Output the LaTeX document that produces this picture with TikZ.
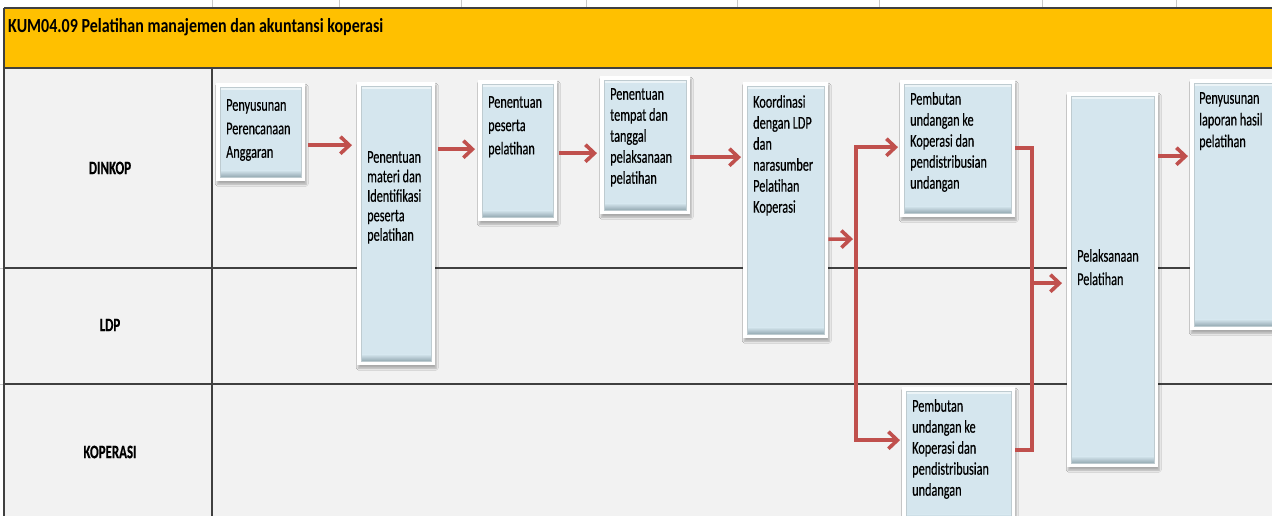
\documentclass[tikz,border=0pt]{standalone}
\usepackage{fontspec}
\setmainfont{Carlito}[FakeStretch=0.68, FakeBold=0.4]
\newfontfamily\titlefont{Carlito}[FakeStretch=0.8]
\usetikzlibrary{arrows.meta,shadows.blur,calc}

\definecolor{hdr}{HTML}{FFC000}
\definecolor{lanebg}{HTML}{F2F2F2}
\definecolor{rule}{HTML}{404040}
\definecolor{faint}{HTML}{C8C8C8}
\definecolor{boxblue}{HTML}{D5E6EE}
\definecolor{boxedge}{HTML}{93A8B1}
\definecolor{flowred}{HTML}{C0504D}

\tikzset{
  laneline/.style={draw=rule, line width=1.3pt},
  topgrid/.style={draw=faint, line width=0.8pt},
  procbox/.style={rectangle, fill=white, inner sep=0pt, anchor=north west,
    blur shadow={shadow xshift=1pt, shadow yshift=-3pt, shadow blur steps=6, shadow opacity=30},
    path picture={
      \fill[boxblue] ([shift={(4pt,-4pt)}]path picture bounding box.north west)
        rectangle ([shift={(-4pt,4pt)}]path picture bounding box.south east);
      \fill[white!55!boxblue] ([shift={(4pt,-4pt)}]path picture bounding box.north west)
        rectangle ([shift={(-4pt,-7pt)}]path picture bounding box.north east);
      \shade[top color=boxblue, bottom color=boxedge]
        ([shift={(4pt,11pt)}]path picture bounding box.south west)
        rectangle ([shift={(-4pt,4pt)}]path picture bounding box.south east);
      \draw[boxedge!60, line width=0.7pt] ([shift={(4pt,-4pt)}]path picture bounding box.north west)
        rectangle ([shift={(-4pt,4pt)}]path picture bounding box.south east);
    }},
  boxtext/.style={anchor=north west, inner sep=0pt, align=left, text=black},
  lanelabel/.style={font=\bfseries\fontsize{19}{22}\selectfont, text=black},
  flow/.style={draw=flowred, line width=3.6pt, line join=miter,
    -{Straight Barb[length=9pt,width=17pt]}},
  flowline/.style={draw=flowred, line width=3.6pt, line join=miter},
}

\begin{document}
\begin{tikzpicture}[x=1pt,y=-1pt]
\useasboundingbox (0,0) rectangle (1272,516);
\clip (0,0) rectangle (1272,516);

% sheet background, header band and swimlane grid
\fill[white] (0,0) rectangle (1272,516);
\fill[lanebg] (4,68) rectangle (1272,516);
\fill[hdr] (4,8) rectangle (1272,68);
\foreach \x in {212,339,461,586,737,879,1042,1176} \draw[topgrid] (\x,0) -- (\x,8);
\draw[topgrid] (0,268) -- (4,268);
\draw[topgrid] (0,384) -- (4,384);
\draw[laneline] (4,8) -- (1272,8);
\draw[laneline] (4,68) -- (1272,68);
\draw[laneline] (4,8) -- (4,516);
\draw[laneline] (212,68) -- (212,516);
\draw[laneline] (4,268) -- (1272,268);
\draw[laneline] (4,384) -- (1272,384);

\node[anchor=base west, inner sep=0pt, font=\titlefont\bfseries\fontsize{20}{24}\selectfont] (title)
  at (8,33) {KUM04.09 Pelatihan manajemen dan akuntansi koperasi};

\node[lanelabel] (lane1) at (110,168) {DINKOP};
\node[lanelabel] (lane2) at (110,325) {LDP};
\node[lanelabel] (lane3) at (110,452) {KOPERASI};

% process boxes
\node[procbox, minimum width=89pt,  minimum height=98pt]  (b1) at (216,83) {};
\node[procbox, minimum width=78pt,  minimum height=283pt] (b2) at (357,82) {};
\node[procbox, minimum width=79pt,  minimum height=141pt] (b3) at (478,80) {};
\node[procbox, minimum width=90pt,  minimum height=138pt] (b4) at (600,76) {};
\node[procbox, minimum width=85pt,  minimum height=256pt] (b5) at (743,82) {};
\node[procbox, minimum width=115pt, minimum height=137pt] (b6) at (900,80) {};
\node[procbox, minimum width=113pt, minimum height=138pt] (b7) at (902,387) {};
\node[procbox, minimum width=91pt,  minimum height=375pt] (b8) at (1067,92) {};
\node[procbox, minimum width=95pt,  minimum height=251pt] (b9) at (1190,79) {};

% box captions
\node[boxtext, font=\fontsize{18}{23.5}\selectfont] (t1) at (226,99) {Penyusunan\\Perencanaan\\Anggaran};
\node[boxtext, font=\fontsize{18}{19.5}\selectfont] (t2) at (367,151) {Penentuan\\materi dan\\Identifikasi\\peserta\\pelatihan};
\node[boxtext, font=\fontsize{18}{23.3}\selectfont] (t3) at (488,96) {Penentuan\\peserta\\pelatihan};
\node[boxtext, font=\fontsize{18}{21}\selectfont] (t4) at (610,88) {Penentuan\\tempat dan\\tanggal\\pelaksanaan\\pelatihan};
\node[boxtext, font=\fontsize{18}{21}\selectfont] (t5) at (753,95) {Koordinasi\\dengan LDP\\dan\\narasumber\\Pelatihan\\Koperasi};
\node[boxtext, font=\fontsize{18}{21}\selectfont] (t6) at (910,92) {Pembutan\\undangan ke\\Koperasi dan\\pendistribusian\\undangan};
\node[boxtext, font=\fontsize{18}{21}\selectfont] (t7) at (912,399) {Pembutan\\undangan ke\\Koperasi dan\\pendistribusian\\undangan};
\node[boxtext, font=\fontsize{18}{23.3}\selectfont] (t8) at (1077,249) {Pelaksanaan\\Pelatihan};
\node[boxtext, font=\fontsize{18}{21.7}\selectfont] (t9) at (1199,92) {Penyusunan\\laporan hasil\\pelatihan};

% connector anchor points on the boxes
\coordinate (o1) at ([yshift=-13pt]b1.east);
\coordinate (o2) at ([yshift=74.5pt]b2.east);
\coordinate (o3) at ([yshift=-2.5pt]b3.east);
\coordinate (o4) at ([yshift=-12pt]b4.east);
\coordinate (o5) at ([yshift=-29pt]b5.east);
\coordinate (i6) at ([yshift=1.5pt]b6.west);
\coordinate (i7) at ([yshift=16pt]b7.west);
\coordinate (o6) at ([yshift=0.5pt]b6.east);
\coordinate (o7) at ([yshift=6pt]b7.east);
\coordinate (i8) at ([yshift=-3.5pt]b8.west);
\coordinate (o8) at ([yshift=123.5pt]b8.east);
\coordinate (split) at (856,239);
\coordinate (merge) at (1032,283);

% sequential flow
\draw[flow, shorten <=3pt, shorten >=5pt] (o1) -- (o1 -| b2.west);
\draw[flow, shorten <=3pt, shorten >=3pt] (o2) -- (o2 -| b3.west);
\draw[flow, shorten <=2pt, shorten >=3pt] (o3) -- (o3 -| b4.west);
\draw[flow, shorten >=2pt] (o4) -- (o4 -| b5.west);
\draw[flow, shorten >=3pt] (o5) -- (split);

% split towards both invitation boxes
\draw[flow, shorten >=2pt] (split |- i7) -- (split |- i6) -- (i6);
\draw[flow, shorten >=2pt] (split |- i6) -- (split |- i7) -- (i7);

% merge into the training step
\draw[flowline] (o6) -| (merge |- o7) -- (o7);
\draw[flow, shorten >=5pt] (merge |- i8) -- (i8);
\draw[flow, shorten >=2pt] (o8) -- (o8 -| b9.west);
\end{tikzpicture}
\end{document}
